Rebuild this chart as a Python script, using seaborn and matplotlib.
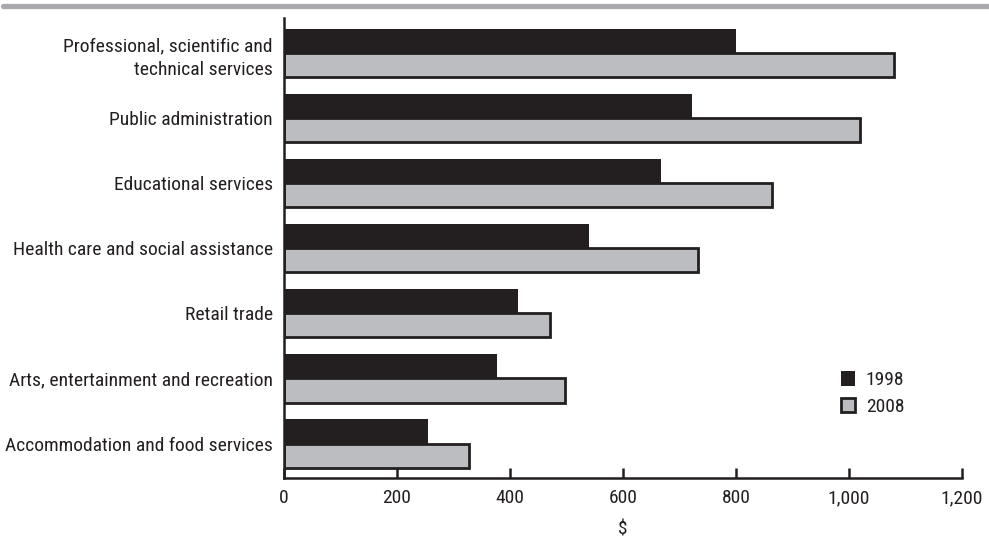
import matplotlib
matplotlib.use("Agg")
import matplotlib.pyplot as plt
from matplotlib import font_manager
from matplotlib.patches import Patch
from matplotlib.lines import Line2D
import seaborn as sns
import pandas as pd

categories = [
    "Professional, scientific and\ntechnical services",
    "Public administration",
    "Educational services",
    "Health care and social assistance",
    "Retail trade",
    "Arts, entertainment and recreation",
    "Accommodation and food services",
]
values_1998 = [800, 722, 668, 539, 414, 377, 255]
values_2008 = [1080, 1019, 863, 732, 471, 498, 328]
years = ["1998", "2008"]
xticks = [0, 200, 400, 600, 800, 1000, 1200]
xtick_labels = ["0", "200", "400", "600", "800", "1,000", "1,200"]

sns.set_theme(style="white")
names = {f.name for f in font_manager.fontManager.ttflist}
fam = [f for f in ["Liberation Sans Narrow", "Roboto Condensed", "Liberation Sans", "DejaVu Sans"] if f in names]
plt.rcParams["font.family"] = fam

df = pd.DataFrame({
    "industry": categories * 2,
    "value": values_1998 + values_2008,
    "year": [years[0]] * len(categories) + [years[1]] * len(categories),
})

dark = "#231f20"
grey = "#bcbdc0"
fs = 14

fig = plt.figure(figsize=(9.89, 5.38), dpi=100)
ax = fig.add_axes([284 / 989, 1 - 478 / 538, (962 - 284) / 989, (478 - 18) / 538])

sns.barplot(data=df, y="industry", x="value", hue="year", orient="h",
            palette=[dark, grey], width=0.74, ax=ax, legend=False,
            saturation=1, linewidth=0)

for p in ax.containers[1]:
    p.set_edgecolor(dark)
    p.set_linewidth(2.0)

ax.set_xlim(0, 1200)
ax.set_ylim(6.53, -0.54)
ax.set_xticks(xticks)
ax.set_xticklabels(xtick_labels)
ax.set_ylabel("")
ax.set_xlabel("$", fontsize=fs, color=dark, labelpad=10)

for s in ["top", "right"]:
    ax.spines[s].set_visible(False)
for s in ["left", "bottom"]:
    ax.spines[s].set_color(dark)
    ax.spines[s].set_linewidth(1.8)

ax.tick_params(axis="x", direction="in", length=7, width=1.8, color=dark,
               labelsize=fs, labelcolor=dark, pad=8, bottom=True)
ax.tick_params(axis="y", length=0, labelsize=fs, labelcolor=dark, pad=8)
for t in ax.get_yticklabels():
    t.set_linespacing(1.4)

handles = [Patch(facecolor=dark, edgecolor=dark, linewidth=0),
           Patch(facecolor=grey, edgecolor=dark, linewidth=2)]
ax.legend(handles, years, loc="upper left", bbox_to_anchor=(0.795, 0.27),
          frameon=False, fontsize=fs, handlelength=0.75, handleheight=0.75,
          handletextpad=0.55, labelspacing=0.45, labelcolor=dark)

fig.add_artist(Line2D([0.003, 1.0], [1 - 6 / 538, 1 - 6 / 538],
                      transform=fig.transFigure, color="#a7a9ac", linewidth=3.8))

fig.savefig("out.png", dpi=100)
